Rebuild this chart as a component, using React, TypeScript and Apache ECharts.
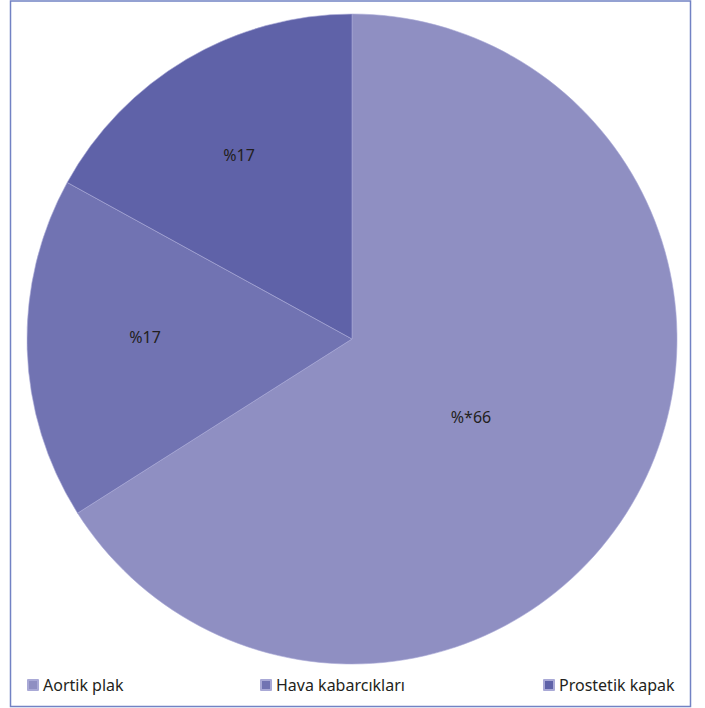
import React, { useEffect, useRef } from "react";
import * as echarts from "echarts";

const categories = ["Aortik plak", "Hava kabarcıkları", "Prostetik kapak"];
const values = [66, 17, 17];
const valueLabels = ["%*66", "%17", "%17"];
const colors = ["#8f8fc2", "#7173b2", "#5f62a8"];
const labelOffsets = [
  [119, 78],
  [-207, -2],
  [-113, -184],
];
const legendLefts = [27, 260, 543];

export default function App() {
  const ref = useRef<HTMLDivElement>(null);
  useEffect(() => {
    document.body.style.margin = "0";
    const chart = echarts.init(ref.current!, null, { renderer: "svg" });
    const cx = 352;
    const cy = 339;
    const R = 325;
    const font = "'Noto Sans', 'Open Sans', sans-serif";
    chart.setOption({
      animation: false,
      backgroundColor: "#ffffff",
      color: colors,
      legend: categories.map((c, i) => ({
        data: [c],
        left: legendLefts[i],
        top: 677,
        icon: "rect",
        itemWidth: 10,
        itemHeight: 10,
        itemGap: 8,
        padding: 0,
        selectedMode: false,
        textStyle: { fontSize: 16, color: "#231f20", fontFamily: font },
      })),
      graphic: [
        {
          type: "rect",
          shape: { x: 10.5, y: 1, width: 680, height: 705.5 },
          style: { fill: "none", stroke: "#7282c4", lineWidth: 1.5 },
          z: 10,
        },
      ],
      series: [
        {
          type: "pie",
          center: [cx, cy],
          radius: R,
          startAngle: 90,
          clockwise: true,
          data: categories.map((c, i) => ({ name: c, value: values[i] })),
          itemStyle: { borderColor: "#a9a9d6", borderWidth: 0.6 },
          label: {
            position: "inside",
            formatter: (p: any) => valueLabels[p.dataIndex],
            fontSize: 16,
            color: "#231f20",
            fontFamily: font,
          },
          labelLine: { show: false },
          emphasis: { disabled: true },
          labelLayout: (params: any) => {
            const o = labelOffsets[params.dataIndex];
            return { x: cx + o[0], y: cy + o[1] };
          },
        },
      ],
    });
    return () => chart.dispose();
  }, []);
  return (
    <div
      ref={ref}
      style={{ position: "absolute", left: 0, top: 0, width: 705, height: 708 }}
    />
  );
}
